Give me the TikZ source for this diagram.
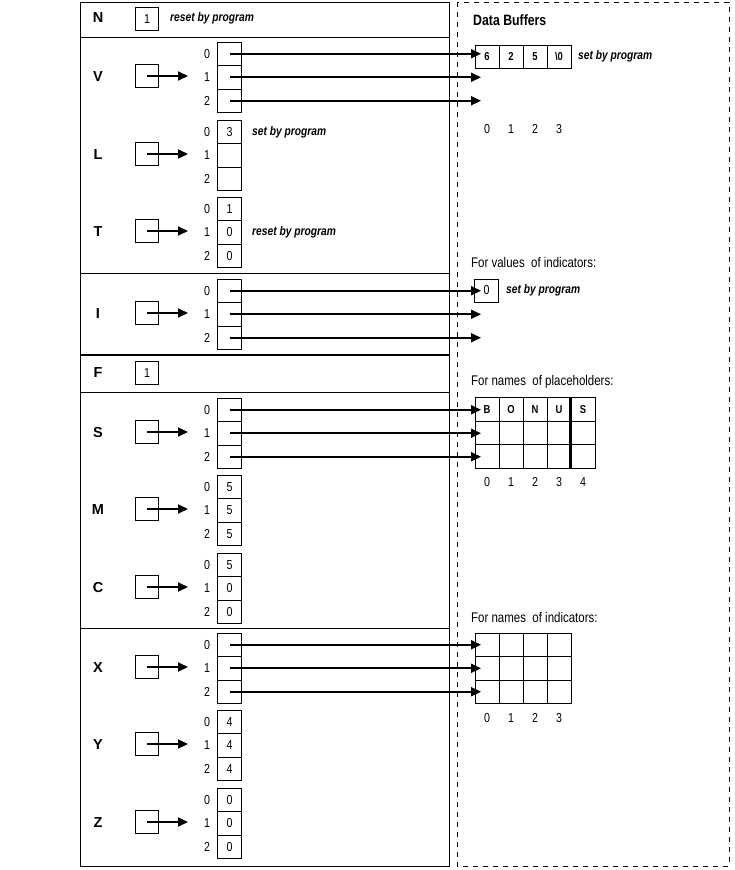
\documentclass[tikz,border=0pt]{standalone}
\usepackage{fontspec}
\setmainfont{Liberation Sans}
\newfontfamily\cond[FakeStretch=0.82]{Liberation Sans}
\usetikzlibrary{arrows.meta}
\tikzset{
  cell/.style={draw, line width=0.9pt, minimum width=24pt, minimum height=23.5pt, inner sep=0pt, font=\cond\fontsize{13}{13}\selectfont},
  gcell/.style={draw, line width=0.9pt, minimum width=24pt, minimum height=23.5pt, inner sep=0pt, font=\cond\bfseries\fontsize{11.5}{11.5}\selectfont},
  pbox/.style={draw, line width=0.9pt, minimum size=23pt, inner sep=0pt},
  vname/.style={font=\bfseries\fontsize{14.5}{14.5}\selectfont},
  idx/.style={font=\cond\fontsize{13}{13}\selectfont},
  note/.style={font=\cond\bfseries\itshape\fontsize{12.5}{12.5}\selectfont, anchor=west, inner sep=0pt},
  capt/.style={font=\cond\fontsize{14}{14}\selectfont, anchor=west, inner sep=0pt},
  arr/.style={line width=2pt, -{Triangle[length=10pt,width=9pt]}},
  rule/.style={line width=0.9pt},
}
\newcommand\arrayrow[6]{%
  \node[vname] (#1lab) at (98,{#3+34.5}) {#2};
  \node[pbox] (#1p) at (147,{#3+34}) {};
  \coordinate (#1pe) at (188,{#3+34});
  \draw[arr] (#1p.center) -- (#1pe);
  \node[cell] (#1c0) at (229.5,{#3+11.75}) {#4};
  \node[cell] (#1c1) at (229.5,{#3+35.25}) {#5};
  \node[cell] (#1c2) at (229.5,{#3+58.75}) {#6};
  \node[idx] (#1i0) at (207,{#3+11.75}) {0};
  \node[idx] (#1i1) at (207,{#3+35.25}) {1};
  \node[idx] (#1i2) at (207,{#3+58.75}) {2};
}
\newcommand\outarrows[1]{%
  \coordinate (#1e0) at (481,0 |- #1c0.center);
  \coordinate (#1e1) at (481,0 |- #1c1.center);
  \coordinate (#1e2) at (481,0 |- #1c2.center);
  \draw[arr] (#1c0.center) -- (#1e0);
  \draw[arr] (#1c1.center) -- (#1e1);
  \draw[arr] (#1c2.center) -- (#1e2);
}
\begin{document}
\begin{tikzpicture}[x=1pt,y=-1pt]
\useasboundingbox (0,0) rectangle (734,870);
% frames
\draw[rule] (80,2) rectangle (449,866);
\draw[rule, dash pattern=on 5pt off 5pt] (457,2) rectangle (729,866);
\draw[rule] (80,37) -- (449,37);
\draw[rule] (80,273) -- (449,273);
\draw[line width=2.2pt] (80,355) -- (449,355);
\draw[rule] (80,392) -- (449,392);
\draw[rule] (80,628) -- (449,628);
% N row
\node[vname] (Nlab) at (98,18) {N};
\node[pbox, font=\cond\fontsize{13}{13}\selectfont] (Nb) at (147,19) {1};
\node[note] (Nnote) at (170,18) {reset by program};
% F row
\node[vname] (Flab) at (98,373) {F};
\node[pbox, font=\cond\fontsize{13}{13}\selectfont] (Fb) at (147,373) {1};
% arrays
\arrayrow{V}{V}{42}{}{}{}
\arrayrow{L}{L}{120}{3}{}{}
\arrayrow{T}{T}{197}{1}{0}{0}
\arrayrow{I}{I}{279}{}{}{}
\arrayrow{S}{S}{398}{}{}{}
\arrayrow{M}{M}{475}{5}{5}{5}
\arrayrow{C}{C}{553}{5}{0}{0}
\arrayrow{X}{X}{633}{}{}{}
\arrayrow{Y}{Y}{710}{4}{4}{4}
\arrayrow{Z}{Z}{788}{0}{0}{0}
\node[note] (Lnote) at (252,132) {set by program};
\node[note] (Tnote) at (252,232) {reset by program};
% data buffers
\node[font=\cond\bfseries\fontsize{15}{15}\selectfont, anchor=west, inner sep=0pt] (dbt) at (473,20) {Data Buffers};
\foreach \k/\t in {0/6,1/2,2/5,3/{\textbackslash 0}}{
  \node[gcell, minimum height=23pt] (db\k) at ({487+24*\k},56.5) {\t};
  \node[idx] (dbi\k) at ({487+24*\k},129) {\k};
}
\node[note] (dbnote) at (578,56) {set by program};
% indicator values
\node[capt] (ivt) at (471,262) {For values\ \ of indicators:};
\node[cell, minimum height=23pt] (iv) at (486.5,290.5) {0};
\node[note] (ivnote) at (506,290) {set by program};
% placeholders grid
\node[capt] (pht) at (471,382) {For names\ \ of placeholders:};
\foreach \r in {0,1,2}{
  \foreach \k in {0,...,4}{
    \node[gcell] (ph\r\k) at ({487+24*\k},{409.25+23.5*\r}) {};
  }
}
\foreach \k/\t in {0/B,1/O,2/N,3/U,4/S}{
  \node[font=\cond\bfseries\fontsize{11.5}{11.5}\selectfont] (phl\k) at (ph0\k) {\t};
  \node[idx] (phi\k) at ({487+24*\k},482) {\k};
}
\draw[line width=2.2pt] (ph04.north west) -- (ph24.south west);
% indicator names grid
\node[capt] (int) at (471,617) {For names\ \ of indicators:};
\foreach \r in {0,1,2}{
  \foreach \k in {0,...,3}{
    \node[gcell] (in\r\k) at ({487+24*\k},{644.75+23.5*\r}) {};
  }
}
\foreach \k in {0,...,3}{
  \node[idx] (ini\k) at ({487+24*\k},718) {\k};
}
% pointer arrows to buffers
\outarrows{V}
\outarrows{I}
\outarrows{S}
\outarrows{X}
\end{tikzpicture}
\end{document}
